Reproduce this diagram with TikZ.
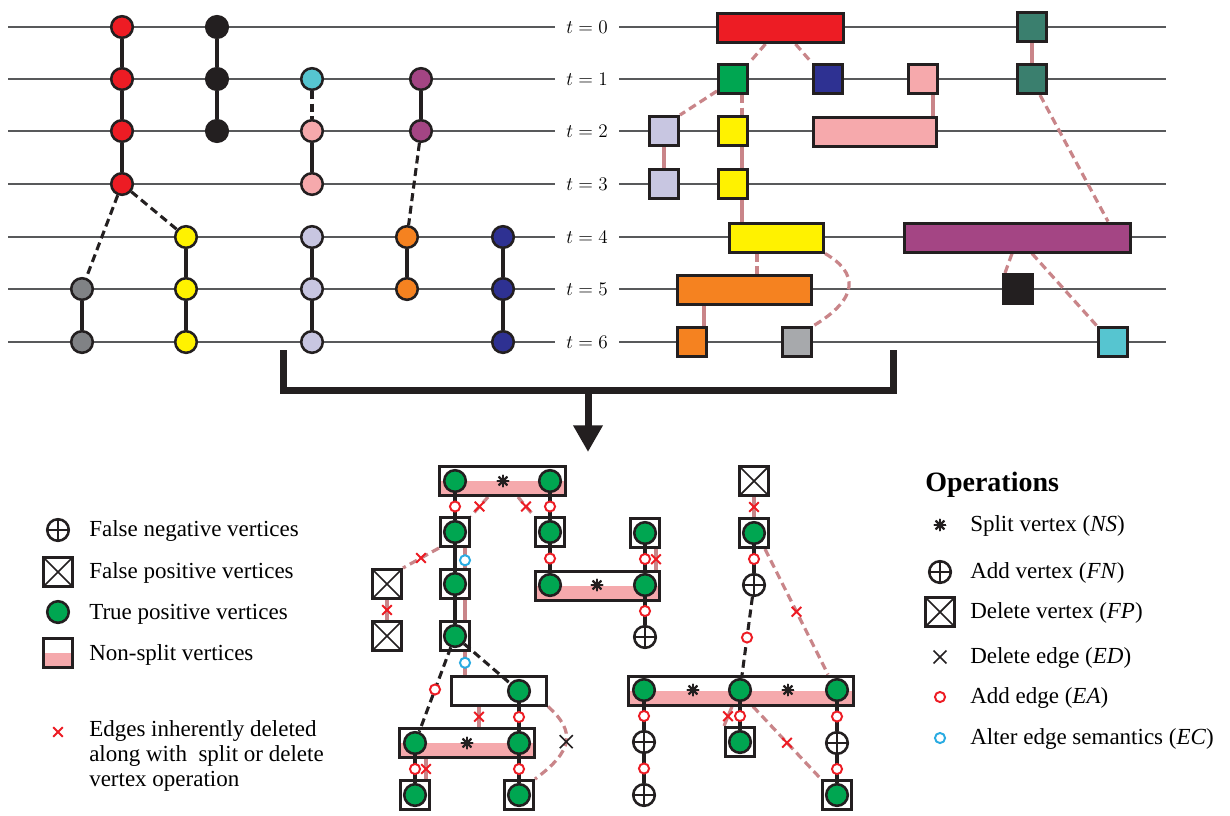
\documentclass[tikz,border=0pt]{standalone}
\usepackage[no-math]{fontspec}
\setmainfont{Liberation Serif}
\usetikzlibrary{calc,shapes.misc,arrows.meta}
\pgfdeclarelayer{bg}\pgfdeclarelayer{boxes}\pgfdeclarelayer{mid}
\pgfsetlayers{bg,boxes,mid,main}
\definecolor{cdark}{HTML}{231F20}
\definecolor{chl}{HTML}{58595B}
\definecolor{cred}{HTML}{ED1C24}
\definecolor{ccyan}{HTML}{56C5D0}
\definecolor{cpink}{HTML}{F6A9AC}
\definecolor{cpurple}{HTML}{A44584}
\definecolor{corange}{HTML}{F58220}
\definecolor{cgray}{HTML}{808285}
\definecolor{cyellow}{HTML}{FFF200}
\definecolor{clav}{HTML}{C8C6E1}
\definecolor{cnavy}{HTML}{2E3192}
\definecolor{cgreen}{HTML}{00A651}
\definecolor{cteal}{HTML}{3A7F6E}
\definecolor{clgray}{HTML}{A7A9AC}
\definecolor{cpl}{HTML}{C98589}
\definecolor{csplit}{HTML}{F5A9AC}
\definecolor{cblue}{HTML}{29ABE2}
\begin{document}
\begin{tikzpicture}[x=0.75pt,y=-0.75pt,
  hline/.style={draw=chl, line width=1.1pt},
  vtx/.style={circle, draw=cdark, line width=1.9pt, minimum size=16.2pt, inner sep=0pt},
  tbox/.style={rectangle, draw=cdark, line width=2.25pt, minimum width=21.75pt, minimum height=21.75pt, inner sep=0pt},
  blk/.style={draw=cdark, line width=2.3pt},
  blkdash/.style={blk, dash pattern=on 6pt off 3.5pt},
  pk/.style={draw=cpl, line width=2.4pt},
  pkdash/.style={pk, dash pattern=on 6pt off 3.5pt},
  tp/.style={vtx, fill=cgreen},
  fnv/.style={vtx, fill=white, path picture={\draw[cdark, line width=1.3pt] (path picture bounding box.north) -- (path picture bounding box.south) (path picture bounding box.west) -- (path picture bounding box.east);}},
  fpv/.style={tbox, fill=white, path picture={\draw[cdark, line width=1.3pt] (path picture bounding box.north west) -- (path picture bounding box.south east) (path picture bounding box.north east) -- (path picture bounding box.south west);}},
  sq/.style={tbox, fill=white},
  splitv/.style={tbox, fill=white, path picture={\fill[csplit] (path picture bounding box.west) rectangle (path picture bounding box.south east);}},
  addc/.style={circle, solid, draw=cred, fill=white, line width=1.45pt, minimum size=7.6pt, inner sep=0pt},
  altc/.style={addc, draw=cblue},
  delx/.style={cross out, solid, draw=cred, line width=1.4pt, minimum size=5.8pt, inner sep=0pt},
  bigx/.style={cross out, solid, draw=cdark, line width=1.2pt, minimum size=8.5pt, inner sep=0pt},
  ast/.style={circle, minimum size=9.5pt, inner sep=0pt, path picture={\foreach \a in {0,45,90,135} \draw[cdark, line width=1.7pt] ($(path picture bounding box.center)+(\a:7)$) -- ($(path picture bounding box.center)+(\a+180:7)$);}},
  lbl/.style={anchor=west, inner sep=0pt, font=\fontsize{17.25pt}{18.75pt}\selectfont},
  tlab/.style={inner sep=0pt, font=\fontsize{15.8pt}{18pt}\selectfont}
]
\useasboundingbox (0,0) rectangle (1230,815);
\begin{pgfonlayer}{bg}
  \fill[white] (0,0) rectangle (1230,815);
  \foreach \y in {27,79,131,184,237,289,342}{
    \draw[hline] (8,\y) -- (555,\y);
    \draw[hline] (619,\y) -- (1166,\y);
  }
\end{pgfonlayer}
\foreach \i/\y in {0/27,1/79,2/131,3/184,4/237,5/289,6/342}
  \node[tlab] (t\i) at (587,\y) {$t=\i$};

% ---------- top-left graph ----------
\node[vtx, fill=cred] (r0) at (122,27) {};
\node[vtx, fill=cred] (r1) at (122,79) {};
\node[vtx, fill=cred] (r2) at (122,131) {};
\node[vtx, fill=cred] (r3) at (122,184) {};
\node[vtx, fill=cdark] (k0) at (217,27) {};
\node[vtx, fill=cdark] (k1) at (217,79) {};
\node[vtx, fill=cdark] (k2) at (217,131) {};
\node[vtx, fill=ccyan] (c1) at (312,79) {};
\node[vtx, fill=cpink] (p2) at (312,131) {};
\node[vtx, fill=cpink] (p3) at (312,184) {};
\node[vtx, fill=cpurple] (u1) at (421,79) {};
\node[vtx, fill=cpurple] (u2) at (421,131) {};
\node[vtx, fill=corange] (o4) at (407,237) {};
\node[vtx, fill=corange] (o5) at (407,289) {};
\node[vtx, fill=cgray] (g5) at (82,289) {};
\node[vtx, fill=cgray] (g6) at (82,342) {};
\node[vtx, fill=cyellow] (y4) at (186,237) {};
\node[vtx, fill=cyellow] (y5) at (186,289) {};
\node[vtx, fill=cyellow] (y6) at (186,342) {};
\node[vtx, fill=clav] (l4) at (312,237) {};
\node[vtx, fill=clav] (l5) at (312,289) {};
\node[vtx, fill=clav] (l6) at (312,342) {};
\node[vtx, fill=cnavy] (n4) at (503,237) {};
\node[vtx, fill=cnavy] (n5) at (503,289) {};
\node[vtx, fill=cnavy] (n6) at (503,342) {};
\begin{pgfonlayer}{mid}
  \draw[blk] (r0) -- (r1) -- (r2) -- (r3);
  \draw[blk] (k0) -- (k1) -- (k2);
  \draw[blkdash] (c1) -- (p2);
  \draw[blk] (p2) -- (p3);
  \draw[blk] (u1) -- (u2);
  \draw[blkdash] (u2) -- (o4);
  \draw[blk] (o4) -- (o5);
  \draw[blk] (g5) -- (g6);
  \draw[blkdash] (r3) -- (g5);
  \draw[blkdash] (r3) -- (y4);
  \draw[blk] (y4) -- (y5) -- (y6);
  \draw[blk] (l4) -- (l5) -- (l6);
  \draw[blk] (n4) -- (n5) -- (n6);
\end{pgfonlayer}

% ---------- top-right boxes ----------
\begin{pgfonlayer}{boxes}
  \node[tbox, fill=cred, minimum width=94.5pt] (R0) at (780.5,28) {};
  \node[tbox, fill=cgreen] (G1) at (733,79) {};
  \node[tbox, fill=cnavy] (N1) at (828,79) {};
  \node[tbox, fill=cpink] (P1) at (923,79) {};
  \node[tbox, fill=cteal] (T0) at (1032,27) {};
  \node[tbox, fill=cteal] (T1) at (1032,79) {};
  \node[tbox, fill=clav] (L2) at (664,131) {};
  \node[tbox, fill=cyellow] (Y2) at (733,131) {};
  \node[tbox, fill=cpink, minimum width=92.25pt] (PR2) at (875,131.5) {};
  \node[tbox, fill=clav] (L3) at (664,184) {};
  \node[tbox, fill=cyellow] (Y3) at (733,184) {};
  \node[tbox, fill=cyellow, minimum width=70.5pt] (YR4) at (776.5,237.5) {};
  \node[tbox, fill=cpurple, minimum width=169.5pt] (PU4) at (1017.5,237.5) {};
  \node[tbox, fill=corange, minimum width=100.5pt] (OR5) at (744.5,289.5) {};
  \node[tbox, fill=cdark] (BK5) at (1018,289) {};
  \node[tbox, fill=corange] (O6) at (692,342) {};
  \node[tbox, fill=clgray] (GR6) at (797,342) {};
  \node[tbox, fill=ccyan] (C6) at (1113,342) {};
\end{pgfonlayer}
\begin{pgfonlayer}{bg}
  \draw[pkdash] ($(R0.south)+(-15,0)$) -- (G1.north east);
  \draw[pkdash] ($(R0.south)+(15,0)$) -- (N1.north west);
  \draw[pkdash] ($(G1.south west)+(0,-4)$) -- (L2.north east);
  \draw[pkdash] ($(G1.south)+(9,0)$) -- ($(Y2.north)+(9,0)$);
  \draw[pk] (L2.south) -- (L3.north);
  \draw[pk] ($(Y2.south)+(9,0)$) -- ($(Y3.north)+(9,0)$);
  \draw[pk] ($(Y3.south)+(9,0)$) -- ($(Y3.south |- YR4.north)+(9,0)$);
  \draw[pk] ($(P1.south)+(10,0)$) -- ($(P1.south |- PR2.north)+(10,0)$);
  \draw[pk] (T0.south) -- (T1.north);
  \draw[pkdash] ($(T1.south)+(8,0)$) -- ($(PU4.north east)+(-24,0)$);
  \draw[pkdash] ($(YR4.south)+(-19.5,0)$) -- ($(YR4.south |- OR5.north)+(-19.5,0)$);
  \draw[pkdash] (YR4.south east) .. controls +(33,19) and +(47,-28) .. (GR6.north east);
  \draw[pk] ($(O6.north)+(12,0)$) -- ($(O6.north |- OR5.south)+(12,0)$);
  \draw[pkdash] ($(PU4.south)+(-5.5,0)$) -- ($(BK5.north west)+(3,0)$);
  \draw[pkdash] ($(PU4.south)+(14.5,0)$) -- (C6.north west);
\end{pgfonlayer}

% ---------- big arrow ----------
\coordinate (bl) at (283,350);
\coordinate (br) at (893,350);
\coordinate (bm) at (588,390);
\coordinate (bt) at (588,452);
\draw[cdark, line width=5.25pt] (bl) -- (bl |- bm) -- (br |- bm) -- (br);
\draw[cdark, line width=5.25pt, -{Triangle[length=20pt,width=21pt]}] (bm) -- (bt);

% ---------- bottom graph: boxes ----------
\begin{pgfonlayer}{boxes}
  \node[splitv, minimum width=94.5pt] (S1) at (502.5,481) {};
  \node[sq] (B1) at (455,532) {};
  \node[sq] (B2) at (550,532) {};
  \node[sq] (B3) at (455,584) {};
  \node[sq] (B4) at (455,636) {};
  \node[fpv] (F1) at (387,584) {};
  \node[fpv] (F2) at (387,636) {};
  \node[sq, minimum width=71.25pt] (W) at (499,690.5) {};
  \node[splitv, minimum width=101.25pt] (S2) at (467,743) {};
  \node[sq] (B5) at (415,795) {};
  \node[sq] (B6) at (519,795) {};
  \node[sq] (B7) at (645,533) {};
  \node[splitv, minimum width=93pt] (S3) at (597.5,585.5) {};
  \node[fpv] (F3) at (754,481) {};
  \node[sq] (B8) at (754,533) {};
  \node[splitv, minimum width=168.75pt] (S4) at (741,690.5) {};
  \node[sq] (B9) at (740,742) {};
  \node[sq] (B10) at (837,795) {};
\end{pgfonlayer}
% vertices
\node[tp] (S1a) at (455,481) {};
\node[tp] (S1b) at (550,481) {};
\node[ast] (A1) at (503,481) {};
\node[tp] (B1c) at (455,532) {};
\node[tp] (B2c) at (550,532) {};
\node[tp] (B3c) at (455,584) {};
\node[tp] (B4c) at (455,636) {};
\node[tp] (Wc) at (519,691) {};
\node[tp] (S2a) at (415,743) {};
\node[tp] (S2b) at (519,743) {};
\node[ast] (A2) at (467,743) {};
\node[tp] (B5c) at (415,795) {};
\node[tp] (B6c) at (519,795) {};
\node[tp] (B7c) at (645,533) {};
\node[tp] (S3a) at (550,585) {};
\node[tp] (S3b) at (645,585) {};
\node[ast] (A3) at (597,585) {};
\node[fnv] (FN1) at (645,637) {};
\node[tp] (B8c) at (754,533) {};
\node[fnv] (FN2) at (754,585) {};
\node[tp] (S4a) at (644,690) {};
\node[tp] (S4b) at (740,690) {};
\node[tp] (S4c) at (837,690) {};
\node[ast] (A4) at (693,690) {};
\node[ast] (A5) at (788,690) {};
\node[fnv] (FN3) at (644,742) {};
\node[fnv] (FN4) at (644,795) {};
\node[tp] (B9c) at (740,742) {};
\node[fnv] (FN5) at (837,743) {};
\node[tp] (B10c) at (837,795) {};

\begin{pgfonlayer}{mid}
  \draw[blk] (S1a) -- node[addc]{} (B1c);
  \draw[blk] (B1c) -- (B3c) -- (B4c);
  \draw[blk] (S1b) -- node[addc]{} (B2c);
  \draw[blk] (B2c) -- node[addc]{} (S3a);
  \draw[blk] (B7c) -- node[addc]{} (S3b);
  \draw[blk] (S3b) -- node[addc]{} (FN1);
  \draw[blk] (Wc) -- node[addc]{} (S2b);
  \draw[blk] (S2a) -- node[addc]{} (B5c);
  \draw[blk] (S2b) -- node[addc]{} (B6c);
  \draw[blk] (B8c) -- node[addc]{} (FN2);
  \draw[blk] (S4a) -- node[addc]{} (FN3);
  \draw[blk] (FN3) -- node[addc]{} (FN4);
  \draw[blk] (S4b) -- node[addc]{} (B9c);
  \draw[blk] (S4c) -- node[addc]{} (FN5);
  \draw[blk] (FN5) -- node[addc]{} (B10c);
  \draw[blkdash] (B4c) -- node[addc]{} (S2a);
  \draw[blkdash] (B4c) -- (Wc);
  \draw[blkdash] (FN2) -- node[addc]{} (S4b);
\end{pgfonlayer}

\begin{pgfonlayer}{bg}
  \draw[pk] ($(B1.south)+(10,0)$) -- node[altc, pos=0.097]{} node[altc, pos=0.907]{} ($(B1.south |- W.north)+(10,0)$);
  \draw[pk] (F1.south) -- node[delx]{} (F2.north);
  \draw[pk] (F3.south) -- node[delx]{} (B8.north);
  \draw[pk] ($(B7.south)+(11,0)$) -- node[delx]{} ($(B7.south |- S3.north)+(11,0)$);
  \draw[pk] ($(W.south)+(-20,0)$) -- node[delx]{} ($(W.south |- S2.north)+(-20,0)$);
  \draw[pk] ($(S2.south -| B5.north)+(11,0)$) -- node[delx]{} ($(B5.north)+(11,0)$);
  \draw[pk] ($(S4.south)+(-9,0)$) -- node[delx]{} (B9.north west);
  \draw[pkdash] ($(S1.south)+(-14.5,0)$) -- node[delx]{} (B1.north east);
  \draw[pkdash] ($(S1.south)+(15.5,0)$) -- node[delx]{} (B2.north west);
  \draw[pkdash] (B1.south west) -- node[delx]{} (F1.north east);
  \draw[pkdash] ($(B8.south east)+(-5,0)$) -- node[delx]{} ($(S4.north)+(87,0)$);
  \draw[pkdash] ($(S4.south)+(12,0)$) -- node[delx]{} (B10.north west);
  \draw[pkdash] (W.south east) .. controls +(28,25) and +(38,-28) .. node[bigx]{} (B6.north east);
\end{pgfonlayer}

% ---------- left legend ----------
\node[fnv] (LFN) at (58,530) {};
\node[lbl] (LFNt) at (89,531) {False negative vertices};
\node[fpv] (LFP) at (58,572) {};
\node[lbl] (LFPt) at (89,573) {False positive vertices};
\node[tp] (LTP) at (58,612) {};
\node[lbl] (LTPt) at (89,614) {True positive vertices};
\node[splitv] (LNS) at (58,653) {};
\node[lbl] (LNSt) at (89,655) {Non-split vertices};
\node[delx] (LX) at (58,732) {};
\node[lbl, align=left, anchor=north west] (LXt) at (89,720) {Edges inherently deleted\\along with~ split or delete\\vertex operation};

% ---------- right legend ----------
\node[lbl, font=\fontsize{21pt}{24pt}\selectfont\bfseries] (OPS) at (925,485) {Operations};
\node[ast] (RA) at (940,525) {};
\node[lbl] (RAt) at (970,526) {Split vertex (\textit{NS})};
\node[fnv] (RFN) at (940,572) {};
\node[lbl] (RFNt) at (970,573) {Add vertex (\textit{FN})};
\node[fpv] (RFP) at (940,612) {};
\node[lbl] (RFPt) at (970,613) {Delete vertex (\textit{FP})};
\node[bigx] (RX) at (940,657) {};
\node[lbl] (RXt) at (970,658) {Delete edge (\textit{ED})};
\node[addc] (RAC) at (940,697) {};
\node[lbl] (RACt) at (970,698) {Add edge (\textit{EA})};
\node[altc] (RAL) at (940,738) {};
\node[lbl] (RALt) at (970,739) {Alter edge semantics (\textit{EC})};
\end{tikzpicture}
\end{document}
